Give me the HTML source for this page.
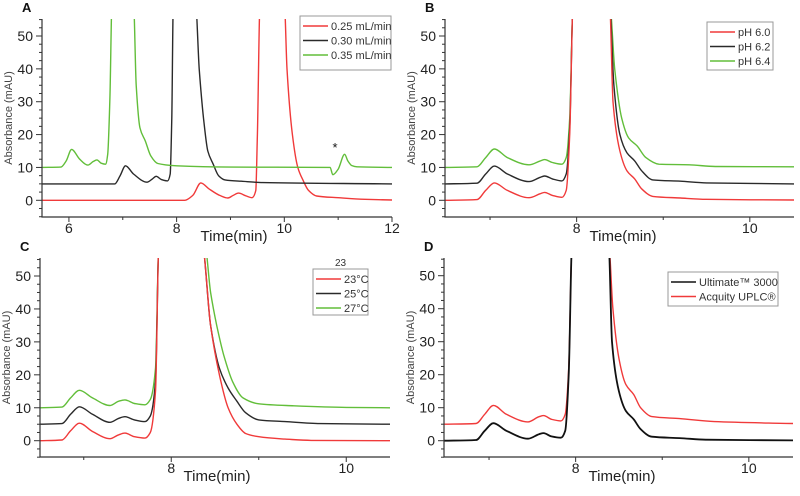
<!DOCTYPE html>
<html><head><meta charset="utf-8">
<style>
html,body{margin:0;padding:0;background:#fff;}
svg{display:block;font-family:"Liberation Sans",sans-serif;}
</style></head>
<body>
<svg id="chart" width="800" height="496" viewBox="0 0 800 496"></svg>
<script>
// ---- Data: [time(min), absorbance(mAU)] pairs ----
const aRed = [[5.5,0],[8.15,0],[8.3,1.5],[8.45,5.3],[8.6,3.5],[8.8,1.5],[8.95,0.7],[9.05,1.5],[9.15,2.2],[9.28,1.4],[9.4,0.8],[9.47,3],[9.5,20],[9.55,60],[10.0,60],[10.05,40],[10.15,20],[10.25,10],[10.35,6],[10.45,3],[10.6,1.3],[11,0.8],[11.5,0.3],[12,0.1]];
const aBlack = [[5.5,5],[6.85,5],[6.95,7.5],[7.05,10.5],[7.2,8],[7.45,5.5],[7.55,6.5],[7.62,7.3],[7.72,6.3],[7.83,5.9],[7.88,8],[7.91,25],[7.94,60],[8.35,60],[8.42,40],[8.5,25],[8.58,15],[8.68,11],[8.78,7.5],[8.9,6.2],[9.2,5.8],[9.6,5.4],[12,5]];
const aGreen = [[5.5,10],[5.85,10.1],[5.95,12],[6.05,15.5],[6.2,12.5],[6.35,10.7],[6.45,11.8],[6.52,12.3],[6.6,11.3],[6.68,11],[6.72,14],[6.76,30],[6.8,60],[7.2,60],[7.25,35],[7.32,22],[7.42,18],[7.52,13.5],[7.65,11.2],[8,10.5],[9,10.1],[10.85,10],[10.9,7.8],[11.0,9.5],[11.12,14],[11.18,12],[11.25,10.6],[11.35,10.2],[12,10]];

const bRed = [[6.48,0],[6.85,0.2],[6.95,3],[7.05,5.3],[7.2,3],[7.45,0.8],[7.58,2],[7.63,2.4],[7.72,1.5],[7.83,0.9],[7.88,3],[7.92,20],[7.96,60],[8.38,60],[8.42,30],[8.5,15],[8.58,9],[8.67,6.5],[8.75,3.5],[8.88,1.2],[9.2,0.7],[9.5,0.3],[10.51,0.1]];
const bBlack = [[6.48,5],[6.85,5.2],[6.95,8],[7.05,10.4],[7.2,8],[7.45,5.7],[7.58,7],[7.63,7.4],[7.72,6.5],[7.83,5.9],[7.88,8],[7.92,22],[7.96,60],[8.38,60],[8.43,35],[8.5,20],[8.58,14.5],[8.67,12],[8.75,9],[8.88,6.2],[9.2,5.8],[9.5,5.3],[10.51,5]];
const bGreen = [[6.48,10],[6.85,10.2],[6.95,13],[7.05,15.6],[7.2,13],[7.45,10.8],[7.58,12],[7.63,12.4],[7.72,11.5],[7.83,11],[7.88,13],[7.92,25],[7.96,60],[8.38,60],[8.44,40],[8.52,25],[8.6,19],[8.7,16.5],[8.8,13],[8.95,11],[9.3,10.8],[9.6,10.3],[10.51,10.2]];

const cRed = [[6.5,0],[6.75,0.2],[6.85,3],[6.95,5.3],[7.1,2.8],[7.3,0.6],[7.4,1.8],[7.47,2.3],[7.58,1.2],[7.7,0.8],[7.76,2.5],[7.82,15],[7.86,60],[8.35,60],[8.45,35],[8.55,20],[8.65,10],[8.75,5],[8.85,2.2],[9,1.2],[9.3,0.5],[9.6,0.1],[10.5,0]];
const cBlack = [[6.5,5],[6.75,5.2],[6.85,8],[6.95,10.3],[7.1,8],[7.3,5.6],[7.4,6.8],[7.47,7.3],[7.58,6.3],[7.7,5.8],[7.76,7.5],[7.82,18],[7.86,60],[8.35,60],[8.45,35],[8.55,22],[8.65,16],[8.75,12],[8.85,8.5],[9,6.3],[9.3,5.8],[9.7,5.2],[10.5,5]];
const cGreen = [[6.5,10],[6.75,10.2],[6.85,13],[6.95,15.3],[7.1,13],[7.3,10.7],[7.4,12],[7.47,12.4],[7.58,11.3],[7.7,10.9],[7.76,12.5],[7.82,22],[7.86,60],[8.38,60],[8.45,45],[8.52,35],[8.6,26],[8.7,18],[8.82,13],[9,11.2],[9.4,10.6],[10,10.1],[10.5,10]];

const dBlack = [[6.48,0],[6.85,0.2],[6.95,3],[7.05,5.3],[7.2,3],[7.45,0.6],[7.58,2],[7.63,2.3],[7.72,1.3],[7.83,0.9],[7.88,3],[7.92,20],[7.96,60],[8.38,60],[8.42,30],[8.5,15],[8.58,9],[8.67,6.5],[8.75,3.5],[8.88,1.2],[9.2,0.8],[9.5,0.3],[10.51,0.1]];
const dRed = [[6.48,5],[6.85,5.2],[6.95,8],[7.05,10.7],[7.2,8],[7.45,5.7],[7.58,7.3],[7.63,7.6],[7.72,6.5],[7.83,6],[7.88,8],[7.92,22],[7.96,60],[8.38,60],[8.43,40],[8.5,25],[8.58,17],[8.67,14],[8.75,10],[8.88,7.3],[9.2,6.7],[9.6,5.8],[10.51,5.2]];

const aLabels = ["0.25 mL/min","0.30 mL/min","0.35 mL/min"];
const bLabels = ["pH 6.0","pH 6.2","pH 6.4"];
const cLabels = ["23°C","25°C","27°C"];
const dLabels = ["Ultimate™ 3000","Acquity UPLC®"];
const yTicks = [0,10,20,30,40,50];
const aXTicks = [6,8,10,12];
const bXTicks = [8,10];

const RED="#f03a3a", BLK="#2a2a2a", GRN="#62be3a";
const NS="http://www.w3.org/2000/svg";
const svg=document.getElementById('chart');
function el(tag,attrs,parent){const e=document.createElementNS(NS,tag);for(const k in attrs)e.setAttribute(k,attrs[k]);(parent||svg).appendChild(e);return e;}

// monotone cubic path (Fritsch–Carlson)
function monoPath(P){
  const n=P.length; if(n<2)return '';
  const dx=[],m=[],t=new Array(n);
  for(let i=0;i<n-1;i++){dx[i]=P[i+1][0]-P[i][0];m[i]=(P[i+1][1]-P[i][1])/dx[i];}
  t[0]=m[0];t[n-1]=m[n-2];
  for(let i=1;i<n-1;i++){
    if(m[i-1]*m[i]<=0)t[i]=0;
    else{const w1=2*dx[i]+dx[i-1],w2=dx[i]+2*dx[i-1];t[i]=(w1+w2)/(w1/m[i-1]+w2/m[i]);}
  }
  let d='M'+P[0][0].toFixed(1)+' '+P[0][1].toFixed(1);
  for(let i=0;i<n-1;i++){
    const h=dx[i]/3;
    d+=` C${(P[i][0]+h).toFixed(1)} ${(P[i][1]+t[i]*h).toFixed(1)} ${(P[i+1][0]-h).toFixed(1)} ${(P[i+1][1]-t[i+1]*h).toFixed(1)} ${P[i+1][0].toFixed(1)} ${P[i+1][1].toFixed(1)}`;
  }
  return d;
}

const panels=[
 {id:'a',letter:'A',L:42,R:392,T:19,B:217,x0:5.5,x1:12,y0:0,y0px:200.3,y50px:36,xt:aXTicks,xminor:[7,9,11],
  series:[[aRed,RED],[aBlack,BLK],[aGreen,GRN]],labels:aLabels,colors:[RED,BLK,GRN],leg:{x:300,y:16,w:91,h:54},xtitle:234},
 {id:'b',letter:'B',L:445,R:794,T:19,B:217,x0:6.48,x1:10.51,y0:0,y0px:200.3,y50px:36,xt:bXTicks,xminor:[7,9],
  series:[[bGreen,GRN],[bBlack,BLK],[bRed,RED]],labels:bLabels,colors:[RED,BLK,GRN],leg:{x:707,y:22,w:66,h:48},xtitle:623},
 {id:'c',letter:'C',L:40,R:390,T:258,B:457,x0:6.5,x1:10.5,y0:0,y0px:440.7,y50px:276,xt:bXTicks,xminor:[7,9],
  series:[[cGreen,GRN],[cBlack,BLK],[cRed,RED]],labels:cLabels,colors:[RED,BLK,GRN],leg:{x:313,y:269,w:55,h:46},xtitle:217,extra:'23'},
 {id:'d',letter:'D',L:444,R:793,T:258,B:457,x0:6.48,x1:10.51,y0:0,y0px:440.7,y50px:275.7,xt:bXTicks,xminor:[7,9],
  series:[[dRed,RED],[dBlack,"#111"]],labels:dLabels,colors:["#111",RED],leg:{x:668,y:272,w:110,h:34},xtitle:622}
];

panels.forEach(p=>{
  const g=el('g',{});
  
  
  const xs=t=>p.L+(t-p.x0)/(p.x1-p.x0)*(p.R-p.L);
  const ys=v=>p.y0px+(v-p.y0)/50*(p.y50px-p.y0px);
  const clip=el('clipPath',{id:'clip-'+p.id},g);
  el('rect',{x:p.L,y:p.T,width:p.R-p.L,height:p.B-p.T},clip);
  p.series.forEach((s,i)=>{
    const pts=s[0].map(pt=>[xs(pt[0]),ys(pt[1])]);
    const path=el('path',{d:monoPath(pts),fill:'none',stroke:s[1],'stroke-width':(p.id==='d'&&i===1)?1.8:1.4,'stroke-linejoin':'round','clip-path':'url(#clip-'+p.id+')'},g);
    
    
  });
  const ax=el('path',{d:`M${p.L} ${p.T} V${p.B} H${p.R}`,fill:'none',stroke:'#333','stroke-width':1.2},g);
  
  
  for(let v=-5;v<=55;v+=2.5){
    const maj=yTicks.includes(v);
    el('line',{x1:p.L-(maj?6:3),x2:p.L,y1:ys(v),y2:ys(v),stroke:'#333','stroke-width':1},g);
  }
  yTicks.forEach(v=>{
    const t=el('text',{x:p.L-9,y:ys(v)+5,'text-anchor':'end','font-size':14,fill:'#222'},g);
    t.textContent=v;
    
    
  });
  p.xt.forEach(v=>{
    el('line',{x1:xs(v),x2:xs(v),y1:p.B,y2:p.B+5,stroke:'#333'},g);
    const t=el('text',{x:xs(v),y:p.B+16,'text-anchor':'middle','font-size':14,fill:'#222'},g);
    t.textContent=v;
    
    
  });
  p.xminor.forEach(v=>el('line',{x1:xs(v),x2:xs(v),y1:p.B,y2:p.B+3,stroke:'#333'},g));
  const xt=el('text',{x:p.xtitle,y:p.B+24,'text-anchor':'middle','font-size':15,fill:'#222'},g);
  xt.textContent='Time(min)';
  
  
  const cy=(p.T+p.B)/2;
  const yt=el('text',{x:0,y:0,'text-anchor':'middle','font-size':11,fill:'#444',transform:`translate(${p.L-30},${cy}) rotate(-90)`},g);
  yt.textContent='Absorbance (mAU)';
  
  
  const lt=el('text',{x:p.L-20,y:p.T-7,'font-size':13,'font-weight':'bold',fill:'#111'},g);
  lt.textContent=p.letter;
  
  
  const lg=el('g',{},g);
  
  
  el('rect',{x:p.leg.x,y:p.leg.y,width:p.leg.w,height:p.leg.h,fill:'#fff',stroke:'#999','stroke-width':1},lg);
  const rowH=14.5;
  p.labels.forEach((lab,i)=>{
    const ry=p.leg.y+10+i*rowH;
    el('line',{x1:p.leg.x+3,x2:p.leg.x+28,y1:ry,y2:ry,stroke:p.colors[i],'stroke-width':1.4},lg);
    const t=el('text',{x:p.leg.x+31,y:ry+4,'font-size':11,fill:'#333'},lg);
    t.textContent=lab;
    
    
  });
  if(p.extra){
    const t=el('text',{x:p.leg.x+p.leg.w/2,y:p.leg.y-3,'text-anchor':'middle','font-size':10,fill:'#333'},g);
    t.textContent=p.extra;
    
    
  }
});
const star=el('text',{x:335,y:152,'text-anchor':'middle','font-size':13,fill:'#111'});
star.textContent='*';


</script>
</body></html>
